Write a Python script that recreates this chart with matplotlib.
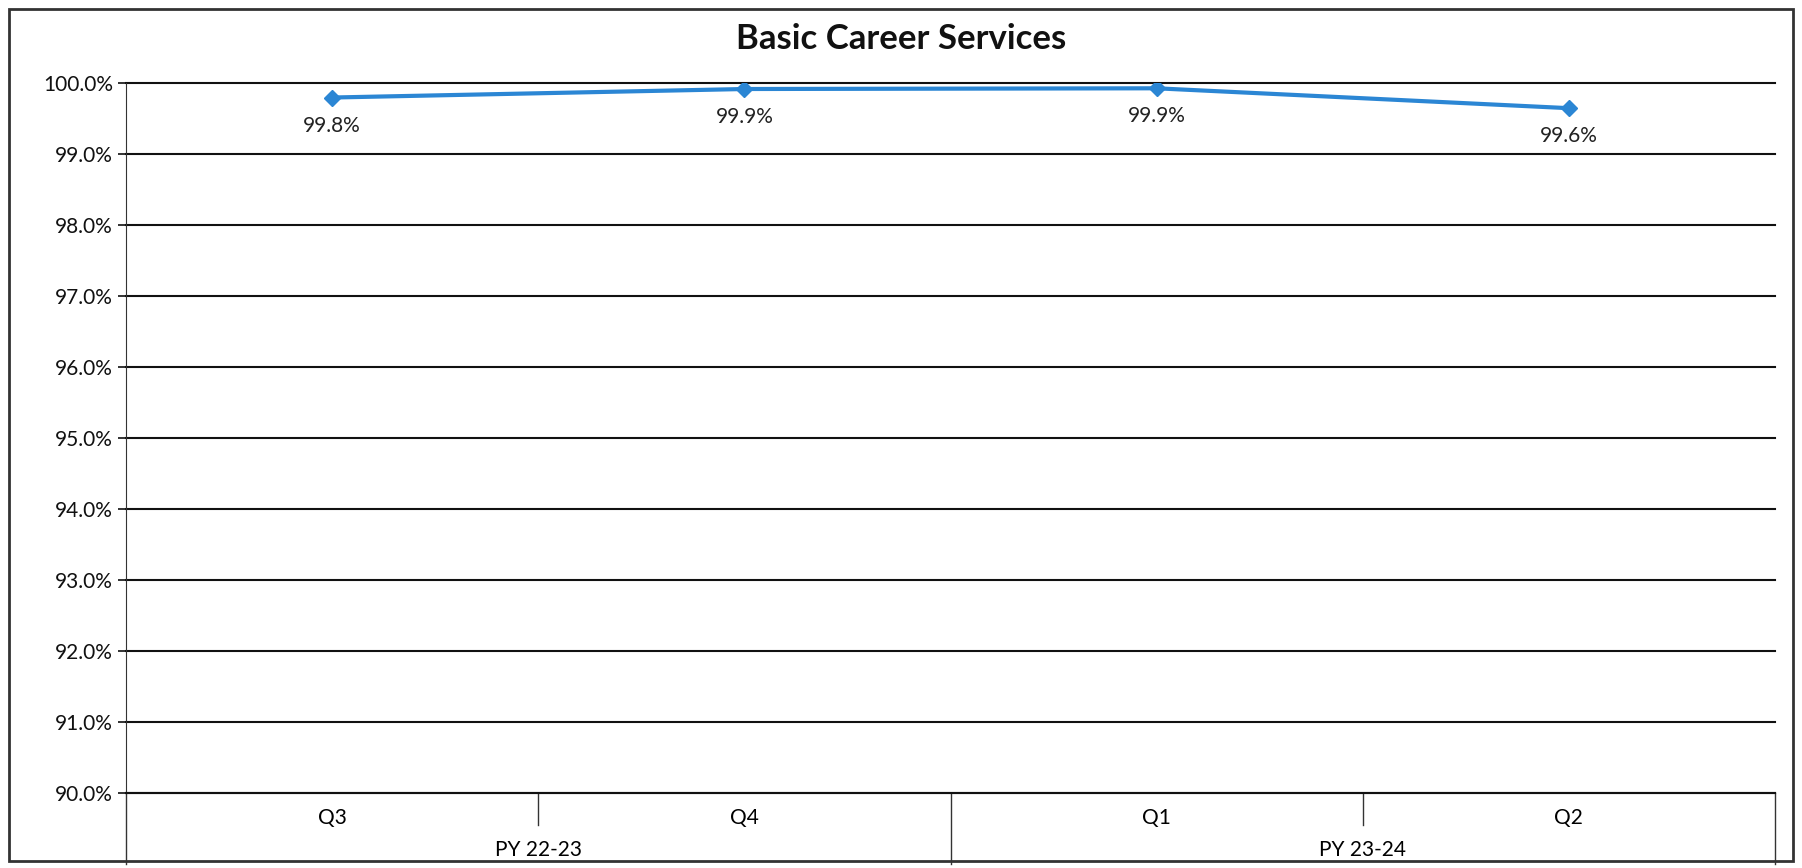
import matplotlib.pyplot as plt
from matplotlib.ticker import FuncFormatter, MultipleLocator
from matplotlib.patches import Rectangle

# data
quarters = ['Q3', 'Q4', 'Q1', 'Q2']
program_years = ['PY 22-23', 'PY 23-24']
quarters_per_year = [2, 2]
values = [99.8, 99.92, 99.93, 99.65]
value_labels = ['99.8%', '99.9%', '99.9%', '99.6%']

plt.rcParams['font.family'] = ['Lato', 'DejaVu Sans']

fig = plt.figure(figsize=(18.02, 8.68), dpi=100)
ax = fig.add_axes([0.070, 0.086, 0.915, 0.818])

x = list(range(len(quarters)))
ax.plot(x, values, color='#2b86d4', linewidth=3, marker='D', markersize=8,
        markerfacecolor='#2b86d4', markeredgecolor='#2b86d4', zorder=3)
for xi, v, lab in zip(x, values, value_labels):
    ax.annotate(lab, (xi, v), xytext=(0, -13), textcoords='offset points',
                ha='center', va='top', fontsize=15, color='#222222')

ax.set_xlim(-0.5, len(quarters) - 0.5)
ax.set_ylim(90, 100)
ax.yaxis.set_major_locator(MultipleLocator(1))
ax.yaxis.set_major_formatter(FuncFormatter(lambda v, p: f'{v:.1f}%'))
ax.tick_params(axis='y', labelsize=15, length=6, width=1.2, colors='#111111')
ax.grid(axis='y', color='#111111', linewidth=1.5)
for gl in ax.get_ygridlines():
    gl.set_clip_on(False)
ax.set_axisbelow(True)

for s in ['top', 'right']:
    ax.spines[s].set_visible(False)
ax.spines['left'].set_color('#333333')
ax.spines['bottom'].set_color('#111111')
ax.spines['bottom'].set_linewidth(1.5)

# multi-level category axis
ax.set_xticks([])
trans = ax.get_xaxis_transform()
for xi, q in zip(x, quarters):
    ax.text(xi, -0.035, q, transform=trans, ha='center', va='center', fontsize=15)

start = -0.5
bounds = [start]
for n in quarters_per_year:
    bounds.append(bounds[-1] + n)
for i, py in enumerate(program_years):
    mid = (bounds[i] + bounds[i + 1]) / 2
    ax.text(mid, -0.08, py, transform=trans, ha='center', va='center', fontsize=15)
for b in bounds:
    ax.plot([b, b], [0, -0.1], transform=trans, color='#333333', linewidth=1, clip_on=False)
for xi in x[:-1]:
    if xi + 0.5 not in bounds:
        ax.plot([xi + 0.5, xi + 0.5], [0, -0.045], transform=trans, color='#333333',
                linewidth=1, clip_on=False)

fig.text(0.5, 0.955, 'Basic Career Services', ha='center', va='center',
         fontsize=25, fontweight='bold', color='#111111')

fig.patches.append(Rectangle((0.005, 0.008), 0.99, 0.982, transform=fig.transFigure,
                             fill=False, edgecolor='#333333', linewidth=2))

fig.savefig('out.png', dpi=100)
